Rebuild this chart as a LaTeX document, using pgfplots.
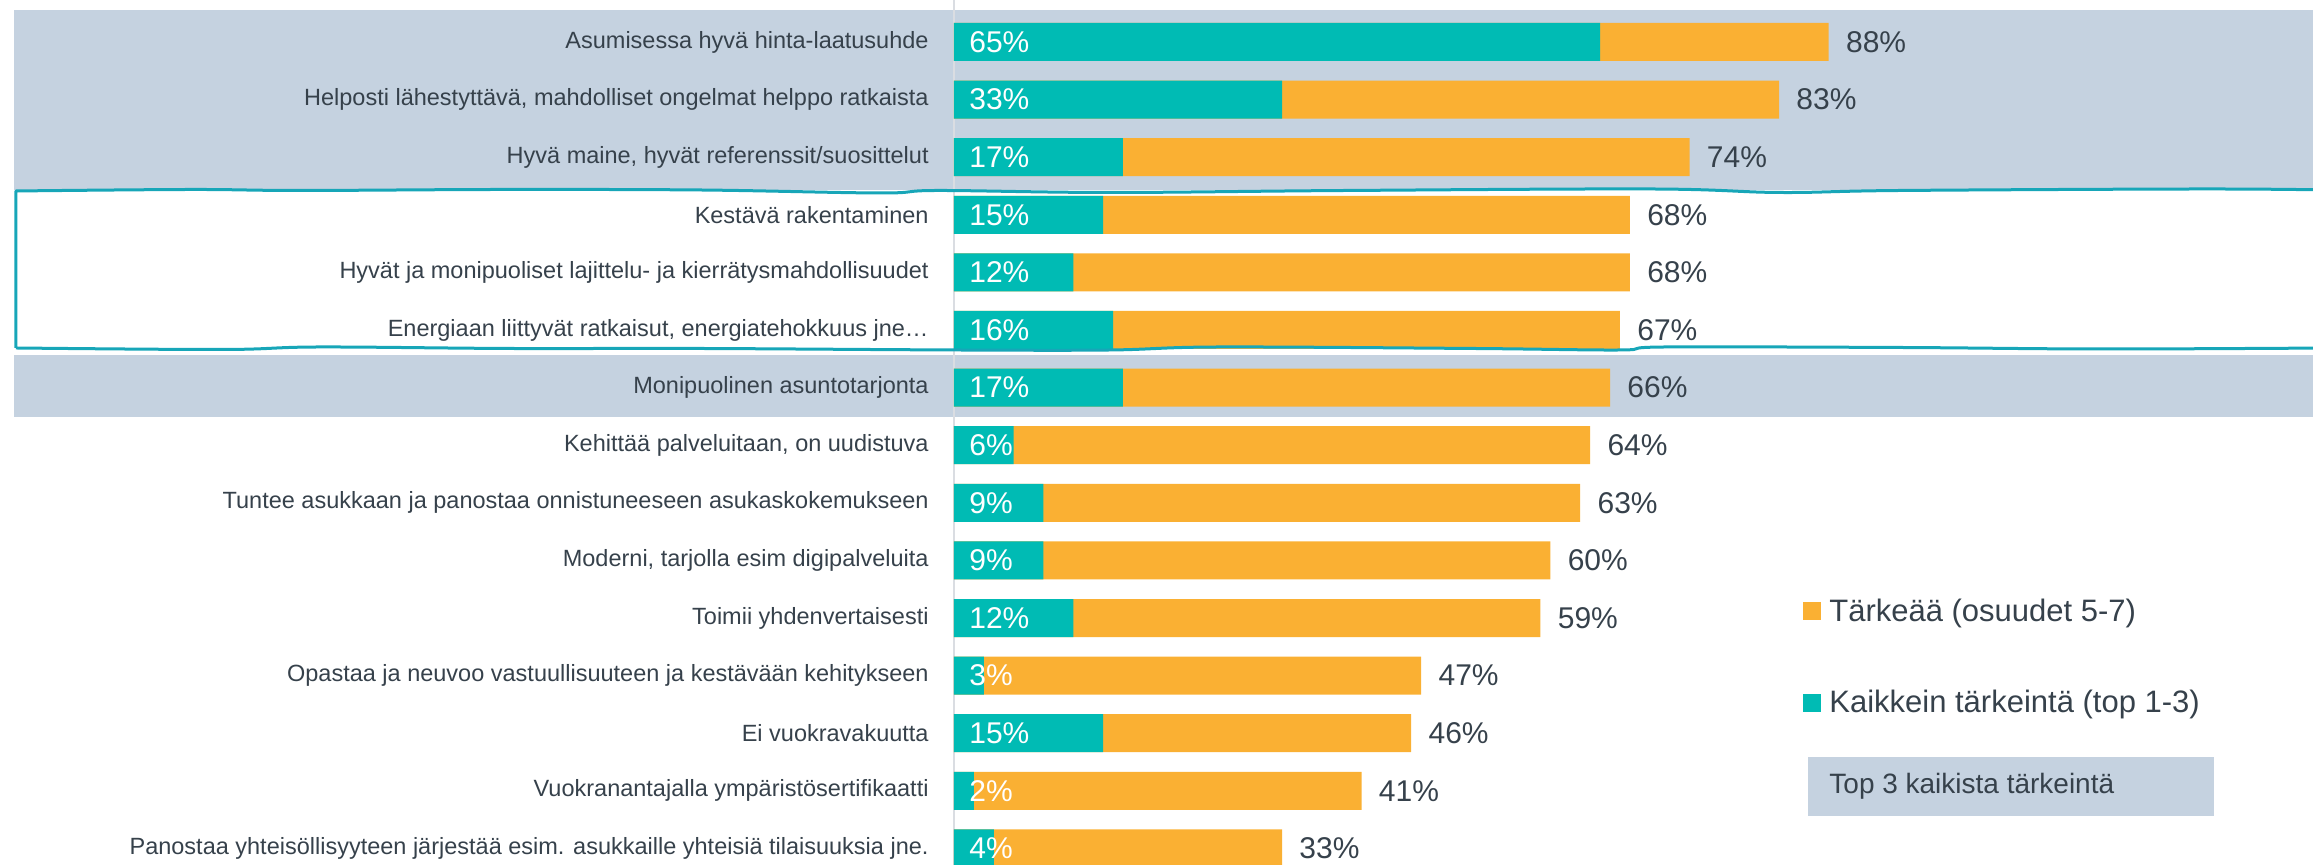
\documentclass[border=0pt]{standalone}
\usepackage{pgfplots}
\pgfplotsset{compat=1.18}
\usepackage{pgfplotstable}
\usepackage{fontspec}
\setmainfont{Liberation Sans}
\definecolor{cTeal}{HTML}{00BBB4}
\definecolor{cOrange}{HTML}{FAB033}
\definecolor{cBand}{HTML}{C5D2E0}
\definecolor{cText}{HTML}{36414B}
\definecolor{cWave}{HTML}{17A6B8}
\definecolor{cAxis}{HTML}{DADDE2}

\pgfplotstableread{
idx top tot
0 65 88
1 33 83
2 17 74
3 15 68
4 12 68
5 16 67
6 17 66
7 6 64
8 9 63
9 9 60
10 12 59
11 3 47
12 15 46
13 2 41
14 4 33
}\data

\begin{document}
\begin{tikzpicture}
\begin{scope}[shift={(-477pt,432.5pt)}, x=0.5pt, y=-0.5pt]
\fill[cBand] (14,10) rectangle (2313,190);
\fill[cBand] (14,355) rectangle (2313,417);
\end{scope}
\begin{axis}[
 scale only axis, width=679.5pt, height=432.5pt,
 xmin=0, xmax=136.72, ymin=-0.729, ymax=14.288, y dir=reverse,
 /pgf/number format/assume math mode=true,
 axis x line=none, axis y line*=left,
 y axis line style={draw=cAxis, line width=1pt},
 ytick={0,...,14},
 yticklabels={
  Asumisessa hyvä hinta-laatusuhde,
  {Helposti lähestyttävä, mahdolliset ongelmat helppo ratkaista},
  {Hyvä maine, hyvät referenssit/suosittelut},
  Kestävä rakentaminen\hspace{0.278em},
  Hyvät ja monipuoliset lajittelu- ja kierrätysmahdollisuudet,
  {Energiaan liittyvät ratkaisut, energiatehokkuus jne…},
  Monipuolinen asuntotarjonta,
  {Kehittää palveluitaan, on uudistuva},
  Tuntee asukkaan ja panostaa onnistuneeseen asukaskokemukseen,
  {Moderni, tarjolla esim digipalveluita},
  Toimii yhdenvertaisesti,
  Opastaa ja neuvoo vastuullisuuteen ja kestävään kehitykseen,
  Ei vuokravakuutta,
  Vuokranantajalla ympäristösertifikaatti,
  Panostaa yhteisöllisyyteen järjestää esim. asukkaille yhteisiä tilaisuuksia jne.},
 ytick style={draw=none}, major tick length=0pt,
 yticklabel style={font=\fontsize{11.75pt}{14pt}\selectfont, text=cText, inner sep=0pt, xshift=-12.5pt, anchor=east},
 legend image code/.code={\fill[#1] (0pt,-4.5pt) rectangle (9pt,4.5pt);},
 legend cell align=left,
 legend style={at={(axis cs:85.41,10.677)}, anchor=west, draw=none, fill=none,
   inner sep=0pt, font=\fontsize{15.5pt}{18pt}\selectfont, text=cText,
   row sep=33pt, column sep=4pt, nodes={inner sep=0pt}},
]
\addplot[xbar, fill=cOrange, draw=none, bar width=19pt, bar shift=0pt,
  point meta=x,
  nodes near coords={\pgfmathprintnumber{\pgfplotspointmeta}\%},
  every node near coord/.append style={anchor=west, inner sep=0pt, xshift=8.5pt,
     text=cText, font=\fontsize{15pt}{18pt}\selectfont}]
  table[x=tot, y=idx] {\data};
\addlegendentry{Tärkeää (osuudet 5-7)}
\addplot[xbar, fill=cTeal, draw=none, bar width=19pt, bar shift=0pt]
  table[x=top, y=idx] {\data};
\addlegendentry{Kaikkein tärkeintä (top 1-3)}
\addplot[only marks, mark=none, forget plot, point meta=explicit,
  nodes near coords={\pgfmathprintnumber{\pgfplotspointmeta}\%},
  every node near coord/.append style={anchor=west, inner sep=0pt, xshift=7.5pt,
     text=white, font=\fontsize{15pt}{18pt}\selectfont}]
  table[x expr=0, y=idx, meta=top] {\data};
\end{axis}
\begin{scope}[shift={(-477pt,432.5pt)}, x=0.5pt, y=-0.5pt]
\draw[cWave, line width=1.5pt, line join=round]
  plot[smooth, tension=0.6] coordinates {(2330,190) (2200,189) (1900,190.5) (1780,192.5) (1652,189) (1346,190.5) (1110,192.5) (938,190.5) (880,193) (700,190) (500,189.5) (300,190.5) (191,189.5) (16,191)}
  -- (16,348)
  plot[smooth, tension=0.6] coordinates {(16,348) (223,349.5) (319,347) (510,348.5) (700,348.5) (957,350) (1110,350) (1219,347) (1474,348.5) (1620,350) (1665,347) (1900,347.5) (2100,349) (2330,348)};
\fill[cBand] (1808,757) rectangle (2214,816);
\node[anchor=west, inner sep=0pt, text=cText, font=\fontsize{14pt}{17pt}\selectfont] at (1829,786.5) {Top 3 kaikista tärkeintä};
\end{scope}
\pgfresetboundingbox
\path[use as bounding box] (-477pt,0pt) rectangle (679.5pt,432.5pt);
\end{tikzpicture}
\end{document}
